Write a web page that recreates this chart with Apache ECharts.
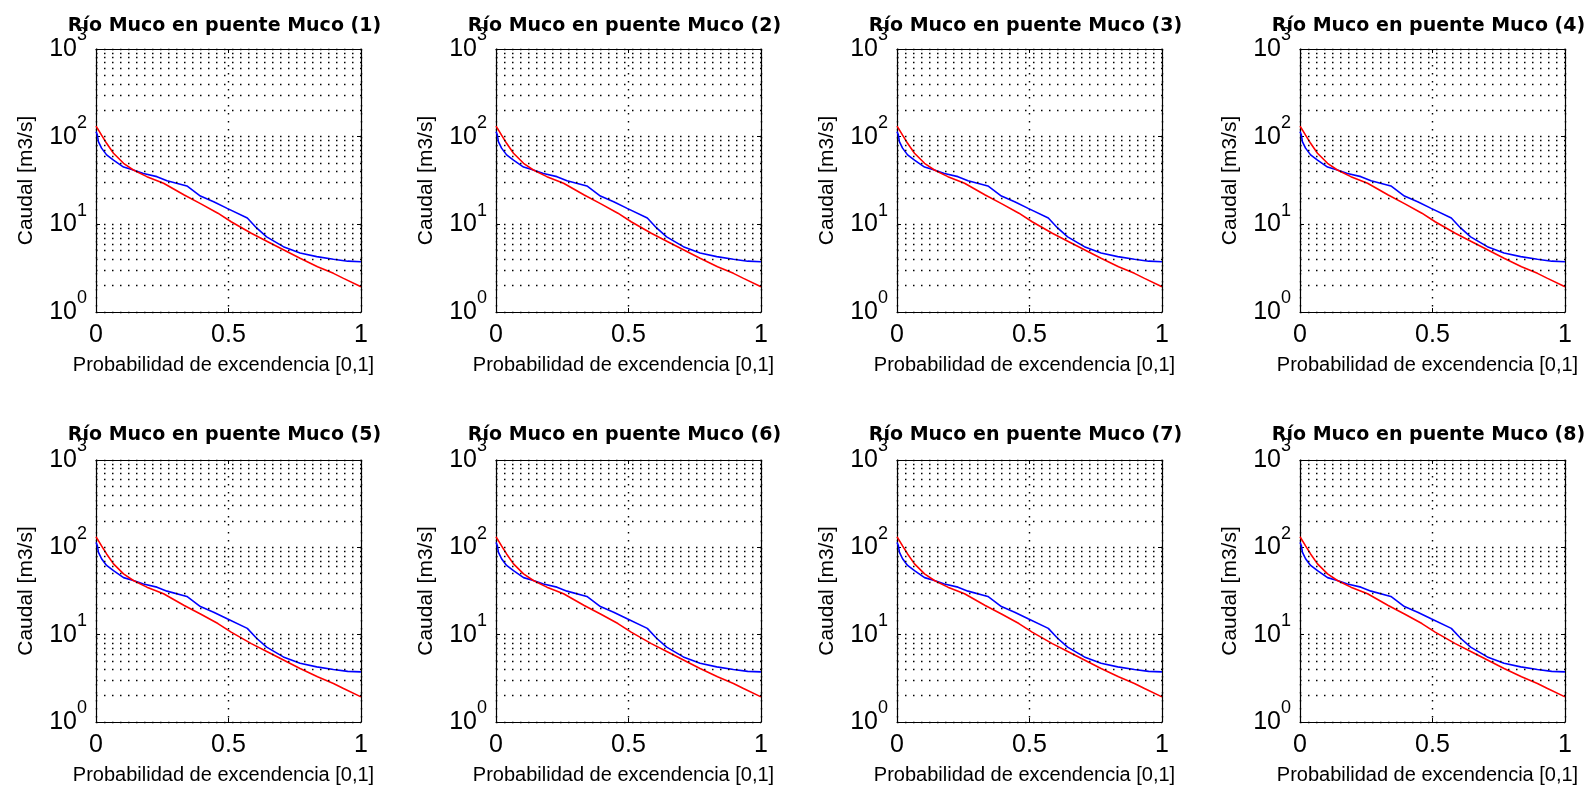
<!DOCTYPE html>
<html>
<head>
<meta charset="utf-8">
<script src="https://cdn.jsdelivr.net/npm/echarts@6/dist/echarts.min.js"></script>
<style>
html,body{margin:0;padding:0;background:#fff;}
#chart{width:1594px;height:789px;}
</style>
</head>
<body>
<div id="chart"></div>
<script>
// ---- data ----
const panelTitles = [
  'Río Muco en puente Muco (1)', 'Río Muco en puente Muco (2)',
  'Río Muco en puente Muco (3)', 'Río Muco en puente Muco (4)',
  'Río Muco en puente Muco (5)', 'Río Muco en puente Muco (6)',
  'Río Muco en puente Muco (7)', 'Río Muco en puente Muco (8)'
];
const xAxisTitle = 'Probabilidad de excendencia [0,1]';
const yAxisTitle = 'Caudal [m3/s]';
const xTicks = [0, 0.5, 1];
const yTicks = [1, 10, 100, 1000];
const yMinorGrid = [2,3,4,5,6,7,8,9,20,30,40,50,60,70,80,90,200,300,400,500,600,700,800,900];

const probBlue = [0, 0.005, 0.009, 0.021, 0.04, 0.066, 0.104, 0.141, 0.179, 0.23, 0.268, 0.343, 0.394, 0.444, 0.495, 0.571, 0.606, 0.644, 0.707, 0.77, 0.833, 0.896, 0.95, 1.0];
const flowBlue = [114, 105, 88, 74, 62, 54, 45, 41.7, 38, 35, 31.5, 27.4, 21, 18.1, 15.2, 11.8, 9.1, 7.2, 5.56, 4.7, 4.28, 4.0, 3.8, 3.75];
const probRed  = [0, 0.005, 0.021, 0.04, 0.066, 0.104, 0.141, 0.192, 0.255, 0.333, 0.396, 0.46, 0.51, 0.586, 0.65, 0.77, 0.836, 0.896, 0.934, 1.0];
const flowRed  = [132, 125, 104, 84, 64.6, 49.7, 41.7, 35, 29.4, 21.6, 17.1, 13.4, 10.7, 7.9, 6.3, 4.1, 3.29, 2.76, 2.42, 1.94];

// ---- layout ----
const colLeft = [96, 496, 897, 1300];
const rowTop = [49, 460];
const rowHeight = [263, 262];
const plotWidth = 265;

const FONT = '"Liberation Sans", Arial, Helvetica, sans-serif';
const dotted = [1.5, 6.5];

const grids = [], xAxes = [], yAxes = [], series = [], titles = [];
for (let i = 0; i < 8; i++) {
  const r = Math.floor(i / 4), c = i % 4;
  const left = colLeft[c], top = rowTop[r], h = rowHeight[r];
  grids.push({left: left, top: top, width: plotWidth, height: h, containLabel: false});
  titles.push({
    text: panelTitles[i], left: left + plotWidth / 2 - 9, top: r === 0 ? 12 : 421,
    textAlign: 'center',
    textStyle: {fontFamily: '"DejaVu Sans", sans-serif', fontWeight: 'bold', fontSize: 19, color: '#000'}
  });
  const axisLine = {show: true, onZero: false, lineStyle: {color: '#000', width: 1.2}};
  // bottom x axis
  xAxes.push({
    type: 'value', gridIndex: i, min: 0, max: 1, interval: 0.5, position: 'bottom',
    axisLine: axisLine,
    axisTick: {show: true, inside: true, length: 4, lineStyle: {color: '#000'}},
    axisLabel: {show: true, margin: 11, fontFamily: FONT, fontSize: 25, color: '#000',
      formatter: v => (xTicks.indexOf(v) >= 0 ? String(v) : '')},
    splitLine: {show: true, lineStyle: {color: '#000', type: dotted, width: 1.4}},
    name: xAxisTitle, nameLocation: 'middle', nameGap: 43,
    nameTextStyle: {fontFamily: FONT, fontSize: 20, color: '#000', padding: [0, 10, 0, 0]}
  });
  // top x axis (box + ticks)
  xAxes.push({
    type: 'value', gridIndex: i, min: 0, max: 1, interval: 0.5, position: 'top',
    axisLine: axisLine,
    axisTick: {show: true, inside: true, length: 4, lineStyle: {color: '#000'}},
    axisLabel: {show: false}, splitLine: {show: false}
  });
  // left y axis
  yAxes.push({
    type: 'log', logBase: 10, gridIndex: i, min: 1, max: 1000, position: 'left',
    axisLine: axisLine,
    axisTick: {show: true, inside: true, length: 4, lineStyle: {color: '#000'}},
    axisLabel: {
      show: true, margin: 9, padding: [0, 0, 2, 0],
      formatter: v => '{e|' + Math.round(Math.log10(v)) + '}\n{b|10}{w| }',
      rich: {
        e: {fontFamily: FONT, fontSize: 18, lineHeight: 2, color: '#000'},
        b: {fontFamily: FONT, fontSize: 25, lineHeight: 25, color: '#000'},
        w: {fontFamily: FONT, fontSize: 10, width: 10, lineHeight: 25}
      }
    },
    splitLine: {show: true, lineStyle: {color: '#000', type: dotted, width: 1.4}},
    name: yAxisTitle, nameLocation: 'middle', nameGap: 59,
    nameTextStyle: {fontFamily: FONT, fontSize: 21, color: '#000'}
  });
  // right y axis (box + ticks)
  yAxes.push({
    type: 'log', logBase: 10, gridIndex: i, min: 1, max: 1000, position: 'right',
    axisLine: axisLine,
    axisTick: {show: true, inside: true, length: 4, lineStyle: {color: '#000'}},
    axisLabel: {show: false}, splitLine: {show: false}
  });
  // minor grid
  series.push({
    type: 'line', xAxisIndex: 2 * i, yAxisIndex: 2 * i, data: [], z: 1, silent: true,
    markLine: {
      silent: true, symbol: ['none', 'none'], animation: false,
      label: {show: false},
      lineStyle: {color: '#000', type: dotted, width: 1.4},
      data: yMinorGrid.map(v => ({yAxis: v}))
    }
  });
  series.push({
    type: 'line', xAxisIndex: 2 * i, yAxisIndex: 2 * i, z: 3, showSymbol: false, animation: false,
    lineStyle: {color: '#0000ff', width: 1.6}, itemStyle: {color: '#0000ff'},
    data: probBlue.map((p, k) => [p, flowBlue[k]])
  });
  series.push({
    type: 'line', xAxisIndex: 2 * i, yAxisIndex: 2 * i, z: 4, showSymbol: false, animation: false,
    lineStyle: {color: '#ff0000', width: 1.6}, itemStyle: {color: '#ff0000'},
    data: probRed.map((p, k) => [p, flowRed[k]])
  });
}

const chart = echarts.init(document.getElementById('chart'), null, {renderer: 'canvas'});
chart.setOption({
  backgroundColor: '#fff',
  animation: false,
  title: titles,
  grid: grids,
  xAxis: xAxes,
  yAxis: yAxes,
  series: series
});
</script>
</body>
</html>
